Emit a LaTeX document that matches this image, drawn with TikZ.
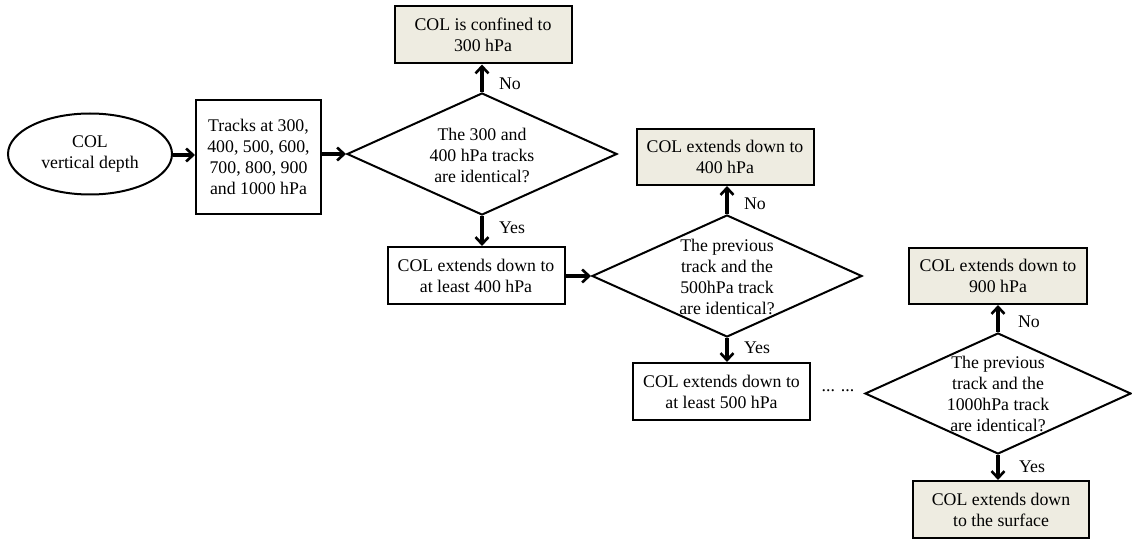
\documentclass[tikz,border=0pt]{standalone}
\usepackage{fontspec}
\setmainfont{Liberation Serif}
\usetikzlibrary{shapes.geometric,arrows.meta}
\definecolor{beige}{RGB}{238,236,225}
\tikzset{
  x=1pt,y=-1pt,
  every node/.style={font=\fontsize{17.8}{21}\selectfont,align=center},
  procbox/.style={draw,line width=2pt,minimum width=177pt,minimum height=57pt,inner sep=0pt},
  endbox/.style={procbox,fill=beige},
  decision/.style={draw,diamond,line width=2pt,minimum width=270pt,minimum height=122pt,inner sep=0pt},
  flow/.style={line width=3.3pt,-{Straight Barb[length=7pt,width=13pt,line width=2.6pt]}},
  lbl/.style={inner sep=0pt}
}
\begin{document}
\begin{tikzpicture}
\useasboundingbox (0,0) rectangle (1132,540);
% start
\node[draw,ellipse,line width=2pt,minimum width=164pt,minimum height=81pt,inner sep=0pt] (start) at (90,154) {COL\\vertical depth};
\node[procbox,minimum width=125pt,minimum height=114pt] (tracks) at (258.5,157) {Tracks at 300,\\400, 500, 600,\\700, 800, 900\\and 1000 hPa};
% decision 1
\node[decision] (d1) at (482,154) {};
\node (d1t) at (482,155) {The 300 and\\400 hPa tracks\\are identical?};
\node[endbox] (c300) at (483,35) {COL is confined to\\300 hPa};
\node[procbox] (l400) at (476,275.5) {COL extends down to\\at least 400 hPa};
% decision 2
\node[decision] (d2) at (727,276) {};
\node (d2t) at (727,277) {The previous\\track and the\\500hPa track\\are identical?};
\node[endbox,minimum height=56pt] (c400) at (725,157) {COL extends down to\\400 hPa};
\node[procbox] (l500) at (721.5,391.5) {COL extends down to\\at least 500 hPa};
\node (dots) at (838,391) {... ...};
% decision 3
\node[decision,minimum width=266pt,minimum height=121pt] (d3) at (998,393.5) {};
\node (d3t) at (998,394) {The previous\\track and the\\1000hPa track\\are identical?};
\node[endbox,minimum width=178pt,minimum height=56pt] (c900) at (998,276) {COL extends down to\\900 hPa};
\node[endbox,minimum width=176pt] (csurf) at (1001,509.5) {COL extends down\\to the surface};
% connectors
\draw[flow] (start.east |- 0,155) -- (tracks.west |- 0,155);
\draw[flow] (tracks.east |- d1.west) -- (d1.west);
\draw[flow] (d1.north) -- (d1.north |- c300.south);
\draw[flow] (d1.south) -- (d1.south |- l400.north);
\draw[flow] (l400.east |- d2.west) -- (d2.west);
\draw[flow] (d2.north) -- (d2.north |- c400.south);
\draw[flow] (d2.south) -- (d2.south |- l500.north);
\draw[flow] (d3.north) -- (d3.north |- c900.south);
\draw[flow] (d3.south) -- (d3.south |- csurf.north);
% labels
\node[lbl] (n1) at (510,84) {No};
\node[lbl] (y1) at (512,228) {Yes};
\node[lbl] (n2) at (755,204) {No};
\node[lbl] (y2) at (757,348) {Yes};
\node[lbl] (n3) at (1029,322) {No};
\node[lbl] (y3) at (1032,467) {Yes};
\end{tikzpicture}
\end{document}
